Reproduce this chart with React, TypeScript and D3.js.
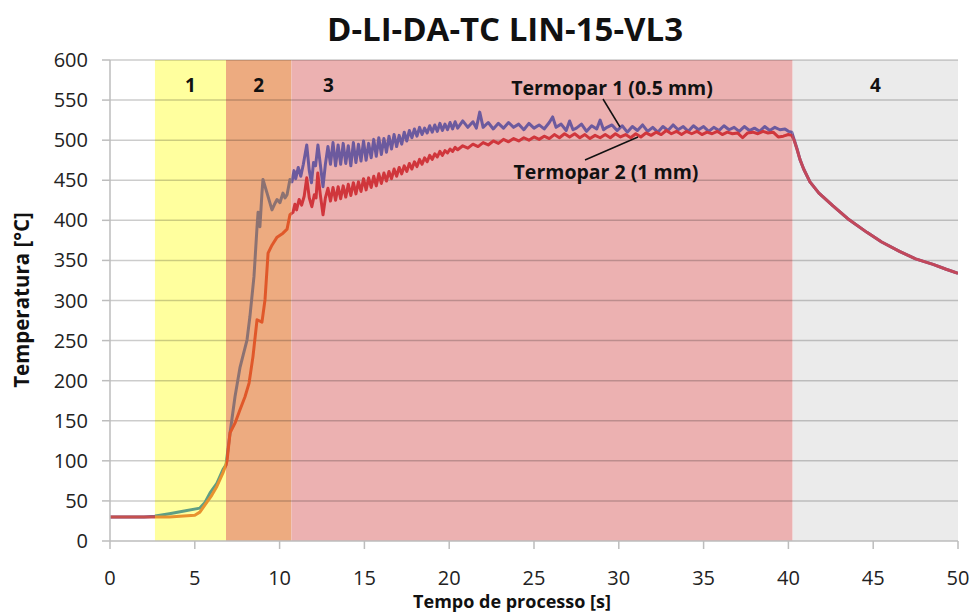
import React from "react";
import * as d3 from "d3";

// process zones (s)
const zoneLabels = ["", "1", "2", "3", "4"];
const zoneStarts = [0, 2.65, 6.84, 10.7, 40.25];
const zoneEnds = [2.65, 6.84, 10.7, 40.25, 50];

const xTicks = [0, 5, 10, 15, 20, 25, 30, 35, 40, 45, 50];
const yTicks = [0, 50, 100, 150, 200, 250, 300, 350, 400, 450, 500, 550, 600];

// Termopar 1 (0.5 mm) : [time s, temperature °C]
const termopar1: [number, number][] = [
  [0, 30], [1, 30], [2, 30], [2.65, 31], [3.5, 34], [4.3, 37], [5.3, 41], [5.6, 48],
  [5.9, 60], [6.3, 72], [6.66, 89], [6.84, 95], [7.08, 135], [7.37, 180], [7.67, 217],
  [8.08, 251], [8.25, 280], [8.49, 330], [8.67, 392], [8.73, 410], [8.84, 392], [8.96, 434],
  [9.02, 451], [9.26, 434], [9.55, 413], [9.7, 420], [9.85, 426], [10.02, 422], [10.2, 434],
  [10.32, 428], [10.44, 432], [10.61, 451], [10.73, 448],
  [10.85, 462], [10.95, 452], [11.1, 466], [11.25, 455], [11.4, 470], [11.6, 494], [11.75, 462],
  [11.88, 447], [12.0, 472], [12.12, 468], [12.26, 494], [12.4, 470], [12.56, 442], [12.7, 470],
  [12.85, 492], [13.0, 470], [13.15, 497], [13.3, 468], [13.45, 494], [13.6, 470], [13.75, 496],
  [13.9, 471], [14.05, 493], [14.2, 468], [14.35, 497], [14.5, 472], [14.65, 495], [14.8, 474],
  [14.95, 499], [15.1, 475], [15.25, 496], [15.4, 478], [15.55, 501], [15.7, 480], [15.85, 503],
  [16.0, 482], [16.15, 502], [16.3, 485], [16.45, 505], [16.6, 489], [16.75, 507], [16.9, 492],
  [17.05, 506], [17.2, 495], [17.35, 510], [17.5, 499], [17.65, 512], [17.8, 503], [17.95, 514],
  [18.1, 505], [18.25, 516], [18.4, 507], [18.55, 515], [18.7, 509], [18.85, 518], [19.0, 510],
  [19.15, 519], [19.3, 511], [19.45, 521], [19.6, 512], [19.75, 520], [19.9, 513], [20.05, 522],
  [20.2, 514], [20.35, 523], [20.5, 515], [20.8, 524], [21.1, 516], [21.4, 523], [21.6, 515],
  [21.8, 535], [22.0, 516], [22.3, 522], [22.6, 514], [22.9, 521], [23.2, 515], [23.5, 522],
  [23.8, 516], [24.1, 520], [24.4, 513], [24.7, 521], [25.0, 515], [25.3, 519], [25.6, 514],
  [25.9, 522], [26.1, 529], [26.3, 516], [26.6, 520], [26.9, 512], [27.1, 524], [27.3, 513],
  [27.5, 515], [27.8, 520], [28.1, 511], [28.4, 518], [28.7, 514], [28.9, 525], [29.1, 513],
  [29.3, 516], [29.6, 519], [29.9, 512], [30.2, 518], [30.5, 510], [30.8, 517], [31.1, 512],
  [31.4, 519], [31.7, 511], [32.0, 516], [32.3, 510], [32.6, 517], [32.9, 512], [33.2, 519],
  [33.5, 513], [33.8, 517], [34.1, 511], [34.4, 518], [34.7, 513], [35.0, 517], [35.3, 511],
  [35.6, 516], [35.9, 512], [36.2, 518], [36.5, 513], [36.8, 516], [37.1, 511], [37.4, 517],
  [37.7, 512], [38.0, 515], [38.3, 511], [38.6, 517], [38.9, 512], [39.2, 516], [39.5, 513],
  [39.8, 514], [40.0, 511], [40.2, 510],
  [40.35, 500], [40.5, 490], [40.68, 476], [40.9, 464], [41.27, 448], [41.8, 434], [42.63, 418],
  [43.5, 402], [44.63, 385], [45.5, 373], [46.58, 361], [47.5, 352], [48.53, 345], [49.3, 339],
  [50, 334],
];

// Termopar 2 (1 mm)
const termopar2: [number, number][] = [
  [0, 30], [1, 30], [2, 30], [2.65, 30], [3.5, 30], [4.13, 31], [5.0, 32], [5.3, 36],
  [5.6, 45], [6.0, 57], [6.3, 68], [6.66, 85], [6.84, 95], [6.9, 100], [7.08, 135], [7.37, 147],
  [7.67, 164], [7.96, 180], [8.2, 197], [8.43, 230], [8.67, 276], [8.96, 273], [9.14, 301],
  [9.32, 359], [9.55, 369], [9.85, 379], [10.2, 384], [10.44, 389], [10.61, 407], [10.79, 410],
  [10.9, 420], [11.0, 413], [11.15, 426], [11.3, 419], [11.45, 430], [11.6, 453], [11.75, 428],
  [11.9, 417], [12.05, 432], [12.15, 428], [12.25, 459], [12.4, 432], [12.56, 407], [12.7, 428],
  [12.85, 440], [13.0, 424], [13.15, 441], [13.3, 425], [13.45, 442], [13.6, 427], [13.75, 443],
  [13.9, 429], [14.05, 445], [14.2, 431], [14.35, 447], [14.5, 433], [14.65, 448], [14.8, 436],
  [14.95, 452], [15.1, 438], [15.25, 453], [15.4, 441], [15.55, 455], [15.7, 443], [15.85, 458],
  [16.0, 446], [16.15, 459], [16.3, 449], [16.45, 461], [16.6, 452], [16.75, 464], [16.9, 455],
  [17.05, 466], [17.2, 458], [17.35, 468], [17.5, 461], [17.65, 471], [17.8, 464], [17.95, 473],
  [18.1, 467], [18.25, 476], [18.4, 470], [18.55, 478], [18.7, 473], [18.85, 481], [19.0, 476],
  [19.15, 483], [19.3, 479], [19.45, 486], [19.6, 481], [19.75, 487], [19.9, 484], [20.05, 489],
  [20.2, 486], [20.35, 491], [20.5, 488], [20.8, 493], [21.1, 490], [21.4, 495], [21.7, 492],
  [22.0, 497], [22.3, 494], [22.6, 499], [22.9, 496], [23.2, 501], [23.5, 498], [23.8, 502],
  [24.1, 499], [24.4, 503], [24.7, 500], [25.0, 504], [25.3, 501], [25.6, 505], [25.9, 502],
  [26.2, 507], [26.5, 503], [26.8, 508], [27.1, 504], [27.4, 508], [27.7, 503], [28.0, 507],
  [28.3, 502], [28.6, 506], [28.9, 503], [29.2, 507], [29.5, 503], [29.8, 508], [30.1, 504],
  [30.4, 507], [30.7, 503], [31.0, 508], [31.3, 504], [31.6, 509], [31.9, 506], [32.2, 510],
  [32.5, 507], [32.8, 512], [33.1, 508], [33.4, 511], [33.7, 507], [34.0, 511], [34.3, 508],
  [34.6, 511], [34.9, 507], [35.2, 510], [35.5, 508], [35.8, 511], [36.1, 507], [36.4, 510],
  [36.7, 508], [37.0, 509], [37.3, 503], [37.6, 509], [37.9, 510], [38.2, 508], [38.5, 511],
  [38.8, 509], [39.1, 510], [39.4, 504], [39.7, 505], [40.0, 507], [40.2, 506],
  [40.35, 499], [40.5, 489], [40.68, 476], [40.9, 464], [41.27, 448], [41.8, 434], [42.63, 418],
  [43.5, 402], [44.63, 385], [45.5, 373], [46.58, 361], [47.5, 352], [48.53, 345], [49.3, 339],
  [50, 334],
];

// styles
const zoneFills = ["#FFFFFF", "#FFFF9E", "#EDAB80", "#ECB1B1", "#EBEBEB"];
const t1Colors = ["#7B5EA0", "#5E9E84", "#8C7272", "#6C5A9E", "#6C5A9E"];
const t2Colors = ["#C4504E", "#E8922E", "#E0582A", "#D0363C", "#C2485A"];
const FONT = "'Open Sans', sans-serif";

export default function App() {
  const W = 973;
  const H = 613;
  const x = d3.scaleLinear().domain([0, 50]).range([110, 958]);
  const y = d3.scaleLinear().domain([0, 600]).range([541, 60]);
  const line = d3
    .line<[number, number]>()
    .x((d) => x(d[0]))
    .y((d) => y(d[1]));

  const [y0, y1] = y.range();

  return (
    <svg
      width={W}
      height={H}
      style={{ position: "absolute", left: 0, top: 0, background: "#fff" }}
      fontFamily={FONT}
    >
      <defs>
        {zoneStarts.map((s, i) => (
          <clipPath id={`zone-${i}`} key={i}>
            <rect x={x(s)} y={0} width={x(zoneEnds[i]) - x(s)} height={H} />
          </clipPath>
        ))}
      </defs>

      {/* zones */}
      {zoneStarts.map((s, i) => (
        <rect
          key={i}
          x={x(s)}
          y={y1}
          width={x(zoneEnds[i]) - x(s)}
          height={y0 - y1}
          fill={zoneFills[i]}
        />
      ))}

      {/* grid */}
      {yTicks.slice(1).map((t) => (
        <line
          key={t}
          x1={x(0)}
          x2={x(50)}
          y1={y(t)}
          y2={y(t)}
          stroke="#000"
          strokeOpacity={0.2}
          strokeWidth={1.5}
        />
      ))}

      {/* series, coloured per zone */}
      {zoneStarts.map((_, i) => (
        <g key={i} clipPath={`url(#zone-${i})`} fill="none" strokeWidth={3} strokeLinejoin="round">
          <path d={line(termopar1) ?? ""} stroke={t1Colors[i]} />
          <path d={line(termopar2) ?? ""} stroke={t2Colors[i]} />
        </g>
      ))}

      {/* axes */}
      <line x1={x(0)} x2={x(0)} y1={y1} y2={y0} stroke="#BDBDBD" strokeWidth={1.5} />
      <line x1={x(0)} x2={x(50)} y1={y0} y2={y0} stroke="#BDBDBD" strokeWidth={1.5} />
      {yTicks.map((t) => (
        <g key={t}>
          <line x1={x(0) - 8} x2={x(0)} y1={y(t)} y2={y(t)} stroke="#BDBDBD" strokeWidth={1.5} />
          <text x={88} y={y(t)} dy="0.35em" textAnchor="end" fontSize={20} fill="#222">
            {t}
          </text>
        </g>
      ))}
      {xTicks.map((t) => (
        <g key={t}>
          <line x1={x(t)} x2={x(t)} y1={y0} y2={y0 + 8} stroke="#BDBDBD" strokeWidth={1.5} />
          <text x={x(t)} y={585} textAnchor="middle" fontSize={20} fill="#222">
            {t}
          </text>
        </g>
      ))}

      {/* zone labels */}
      {zoneLabels.map((l, i) =>
        l ? (
          <text
            key={i}
            x={l === "3" ? x(zoneStarts[i]) + 37 : (x(zoneStarts[i]) + x(zoneEnds[i])) / 2}
            y={92}
            textAnchor="middle"
            fontSize={19}
            fontWeight="bold"
            fill="#111"
          >
            {l}
          </text>
        ) : null
      )}

      {/* annotations */}
      <text x={612} y={95} textAnchor="middle" fontSize={19.5} fontWeight="bold" fill="#111">
        Termopar 1 (0.5 mm)
      </text>
      <line x1={603} y1={99} x2={620} y2={127} stroke="#111" strokeWidth={1.5} />
      <text x={606} y={179} textAnchor="middle" fontSize={19.5} fontWeight="bold" fill="#111">
        Termopar 2 (1 mm)
      </text>
      <line x1={585} y1={160} x2={638} y2={137} stroke="#111" strokeWidth={1.5} />

      {/* titles */}
      <text x={505} y={41} textAnchor="middle" fontSize={33} fontWeight="bold" fill="#111">
        D-LI-DA-TC LIN-15-VL3
      </text>
      <text x={512} y={608} textAnchor="middle" fontSize={18} fontWeight="bold" fill="#111">
        Tempo de processo [s]
      </text>
      <text
        transform={`translate(29,300) rotate(-90)`}
        textAnchor="middle"
        fontSize={20.5}
        fontWeight="bold"
        fill="#111"
      >
        Temperatura [°C]
      </text>
    </svg>
  );
}
